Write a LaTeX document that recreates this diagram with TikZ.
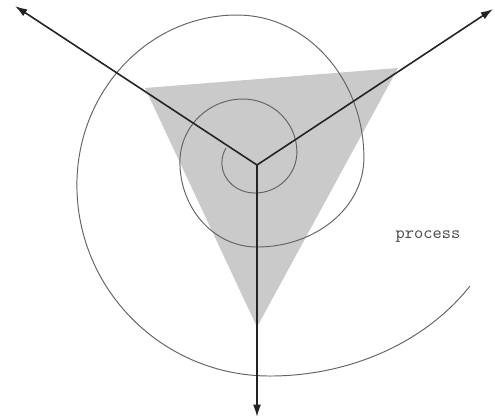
\documentclass[tikz,border=0pt]{standalone}
\usetikzlibrary{arrows.meta}
\definecolor{sectorgray}{RGB}{202,202,202}
\definecolor{axisdark}{RGB}{35,35,35}
\definecolor{spiralgray}{RGB}{100,100,100}
\tikzset{
    axisarrow/.style={
        -{Latex[length=7pt,width=4.5pt]},
        line width=0.9pt,
        color=axisdark,
    },
    spiralline/.style={
        draw=spiralgray,
        line width=0.55pt,
    },
    sector/.style={
        fill=sectorgray,
    },
    label/.style={
        font=\ttfamily\normalsize,
        text=black!70,
    },
}
\begin{document}
\begin{tikzpicture}[x=0.02cm, y=-0.02cm]
\useasboundingbox (0,0) rectangle (495,419);

% ===== Points =====
\coordinate (origin) at (257,165);
\coordinate (tipleft) at (15,6);
\coordinate (tipright) at (493,9);
\coordinate (tipdown) at (257,417);
\coordinate (triA) at (145,88);
\coordinate (triB) at (398,68);
\coordinate (triC) at (257,327);
\coordinate (spiralstart) at (226,148);

% ===== Gray triangle =====
\fill[sector] (triA) -- (triB) -- (triC) -- cycle;

% ===== Spiral (quarter arcs, growing) =====
\draw[spiralline] (spiralstart)
    arc[start angle=208, end angle=180, x radius=35, y radius=32]
    arc[start angle=180, end angle=90, x radius=33, y radius=30]
    arc[start angle=90, end angle=0, x radius=42, y radius=41]
    arc[start angle=0, end angle=-90, x radius=54, y radius=53]
    arc[start angle=-90, end angle=-180, x radius=63, y radius=63]
    arc[start angle=180, end angle=90, x radius=77, y radius=85]
    arc[start angle=90, end angle=0, x radius=107, y radius=89]
    arc[start angle=0, end angle=-90, x radius=127, y radius=143]
    arc[start angle=-90, end angle=-180, x radius=160, y radius=170]
    arc[start angle=180, end angle=90, x radius=193, y radius=191]
    arc[start angle=90, end angle=33.6, x radius=240, y radius=201];

% ===== Arrows =====
\draw[axisarrow] (origin) -- (tipleft);
\draw[axisarrow] (origin) -- (tipright);
\draw[axisarrow] (origin) -- (tipdown);

% ===== Label =====
\node[label] (process) at (428,237) {process};

\end{tikzpicture}
\end{document}
